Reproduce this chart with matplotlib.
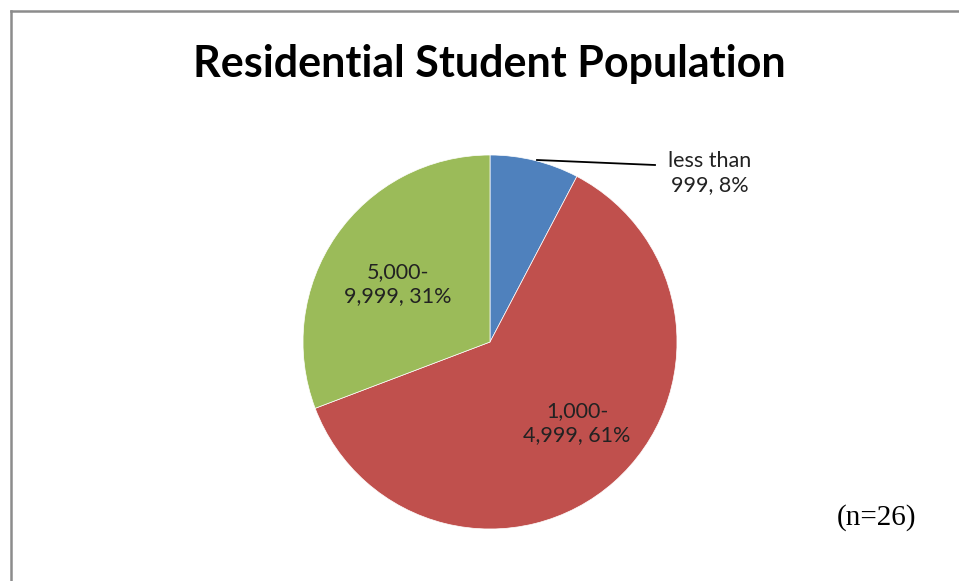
import matplotlib
matplotlib.use("Agg")
import matplotlib.pyplot as plt
from matplotlib.lines import Line2D

categories = ["less than 999", "1,000-4,999", "5,000-9,999"]
counts = [2, 16, 8]
pct_labels = ["less than\n999, 8%", "1,000-\n4,999, 61%", "5,000-\n9,999, 31%"]
colors = ["#4F81BD", "#C0504D", "#9BBB59"]
title = "Residential Student Population"
note = "(n=26)"

W, H = 959, 581
fig = plt.figure(figsize=(W / 100, H / 100), dpi=100)
fig.patch.set_facecolor("white")

# border (left and top)
fig.add_artist(Line2D([11 / W, 11 / W], [0, 1 - 11 / H], transform=fig.transFigure,
                      color="#8c8c8c", lw=1.8))
fig.add_artist(Line2D([11 / W, 1], [1 - 11 / H, 1 - 11 / H], transform=fig.transFigure,
                      color="#8c8c8c", lw=1.8))

cx, cy, r = 490, 342, 187
ax = fig.add_axes([(cx - r) / W, (H - cy - r) / H, 2 * r / W, 2 * r / H])
ax.pie(counts, colors=colors, startangle=90, counterclock=False, radius=1,
       wedgeprops=dict(linewidth=0.5, edgecolor="white"))
ax.set_xlim(-1, 1)
ax.set_ylim(-1, 1)
ax.set_aspect("equal")
ax.axis("off")

font = ["Lato", "DejaVu Sans"]
def px(x, y):
    return ((x - cx) / r, (cy - y) / r)

fs = 15.5
ax.text(*px(710, 173), pct_labels[0], ha="center", va="center", fontsize=fs,
        family=font, color="#222222", linespacing=1.2)
ax.text(*px(577, 423), pct_labels[1], ha="center", va="center", fontsize=fs,
        family=font, color="#222222", linespacing=1.2)
ax.text(*px(398, 284), pct_labels[2], ha="center", va="center", fontsize=fs,
        family=font, color="#222222", linespacing=1.2)
x0, y0 = px(537, 160)
x1, y1 = px(655, 165)
ax.plot([x0, x1], [y0, y1], color="black", lw=1.3, clip_on=False)

fig.text(489 / W, 1 - 64 / H, title, ha="center", va="center", fontsize=31,
         fontweight="bold", family=font)
fig.text(877 / W, 1 - 518 / H, note, ha="center", va="center", fontsize=21,
         family=["Liberation Serif", "DejaVu Serif"])

fig.savefig("out.png", dpi=100, facecolor="white")
